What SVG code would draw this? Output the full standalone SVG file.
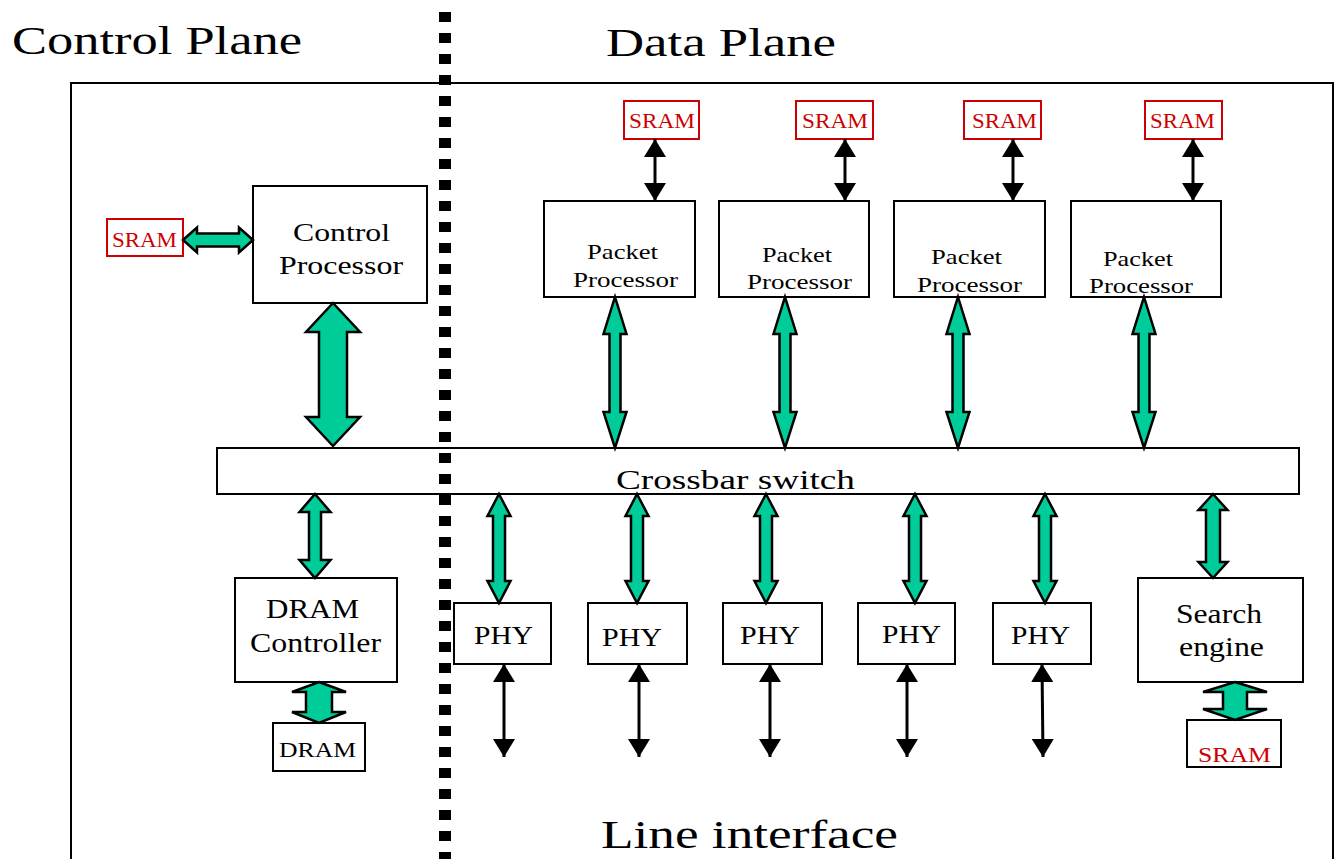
<svg xmlns="http://www.w3.org/2000/svg" width="1335" height="859" viewBox="0 0 1335 859">
<defs>
<style>
.box{fill:#fff;stroke:#000;stroke-width:2}
.rbox{fill:#fff;stroke:#cc0000;stroke-width:2}
.t{font-family:"Liberation Serif","Times New Roman",serif;fill:#000}
.r{fill:#cc0000}
.g{fill:#00cc99;stroke:#000;stroke-width:2.5;stroke-linejoin:miter}
.b{stroke:#000;stroke-width:3;fill:none}
</style>
<marker id="ah" viewBox="0 0 18 22" refX="18" refY="11" markerWidth="18" markerHeight="22" markerUnits="userSpaceOnUse" orient="auto-start-reverse">
<path d="M0,0 L18,11 L0,22 z" fill="#000"/>
</marker>
</defs>
<rect width="1335" height="859" fill="#fff"/>
<path d="M71,870 V83 H1333 V870" fill="none" stroke="#000" stroke-width="2"/>
<text class="t" x="12" y="54" font-size="40" textLength="290" lengthAdjust="spacingAndGlyphs">Control Plane</text>
<text class="t" x="606" y="56" font-size="40" textLength="230" lengthAdjust="spacingAndGlyphs">Data Plane</text>
<text class="t" x="601" y="848" font-size="40" textLength="297" lengthAdjust="spacingAndGlyphs">Line interface</text>

<g id="sram-cp"><rect class="rbox" x="107" y="219" width="76" height="37"/><text class="t r" x="112" y="247" font-size="20" textLength="65" lengthAdjust="spacingAndGlyphs">SRAM</text></g>
<g id="control-processor"><rect class="box" x="253" y="186" width="174" height="117"/>
<text class="t" x="293" y="241" font-size="26" textLength="97" lengthAdjust="spacingAndGlyphs">Control</text>
<text class="t" x="279" y="274" font-size="26" textLength="124" lengthAdjust="spacingAndGlyphs">Processor</text></g>

<g id="sram1"><rect class="rbox" x="624" y="101" width="75" height="38"/><text class="t r" x="629" y="128" font-size="20" textLength="66" lengthAdjust="spacingAndGlyphs">SRAM</text></g>
<g id="sram2"><rect class="rbox" x="796" y="101" width="77" height="38"/><text class="t r" x="802" y="128" font-size="20" textLength="66" lengthAdjust="spacingAndGlyphs">SRAM</text></g>
<g id="sram3"><rect class="rbox" x="964" y="101" width="77" height="38"/><text class="t r" x="972" y="128" font-size="20" textLength="65" lengthAdjust="spacingAndGlyphs">SRAM</text></g>
<g id="sram4"><rect class="rbox" x="1145" y="101" width="77" height="38"/><text class="t r" x="1150" y="128" font-size="20" textLength="65" lengthAdjust="spacingAndGlyphs">SRAM</text></g>

<g id="pp1"><rect class="box" x="544" y="201" width="151" height="96"/>
<text class="t" x="587" y="259" font-size="21" textLength="71" lengthAdjust="spacingAndGlyphs">Packet</text>
<text class="t" x="573" y="287" font-size="21" textLength="105" lengthAdjust="spacingAndGlyphs">Processor</text></g>
<g id="pp2"><rect class="box" x="719" y="201" width="150" height="96"/>
<text class="t" x="762" y="262" font-size="21" textLength="70" lengthAdjust="spacingAndGlyphs">Packet</text>
<text class="t" x="747" y="289" font-size="21" textLength="105" lengthAdjust="spacingAndGlyphs">Processor</text></g>
<g id="pp3"><rect class="box" x="894" y="201" width="151" height="96"/>
<text class="t" x="931" y="264" font-size="21" textLength="71" lengthAdjust="spacingAndGlyphs">Packet</text>
<text class="t" x="917" y="292" font-size="21" textLength="105" lengthAdjust="spacingAndGlyphs">Processor</text></g>
<g id="pp4"><rect class="box" x="1071" y="201" width="150" height="96"/>
<text class="t" x="1103" y="266" font-size="21" textLength="70" lengthAdjust="spacingAndGlyphs">Packet</text>
<text class="t" x="1089" y="293" font-size="21" textLength="104" lengthAdjust="spacingAndGlyphs">Processor</text></g>

<g id="crossbar"><rect class="box" x="217" y="448" width="1082" height="46"/>
<text class="t" x="616" y="489" font-size="28" textLength="239" lengthAdjust="spacingAndGlyphs">Crossbar switch</text></g>

<g id="dram-controller"><rect class="box" x="235" y="578" width="162" height="104"/>
<text class="t" x="266" y="618" font-size="27" textLength="93" lengthAdjust="spacingAndGlyphs">DRAM</text>
<text class="t" x="250" y="652" font-size="27" textLength="131" lengthAdjust="spacingAndGlyphs">Controller</text></g>
<g id="dram"><rect class="box" x="273" y="723" width="92" height="48"/>
<text class="t" x="279" y="757" font-size="22" textLength="77" lengthAdjust="spacingAndGlyphs">DRAM</text></g>

<g id="phy1"><rect class="box" x="454" y="603" width="97" height="61"/><text class="t" x="474" y="644" font-size="26" textLength="59" lengthAdjust="spacingAndGlyphs">PHY</text></g>
<g id="phy2"><rect class="box" x="588" y="603" width="99" height="61"/><text class="t" x="602" y="646" font-size="26" textLength="60" lengthAdjust="spacingAndGlyphs">PHY</text></g>
<g id="phy3"><rect class="box" x="723" y="603" width="99" height="61"/><text class="t" x="740" y="644" font-size="26" textLength="60" lengthAdjust="spacingAndGlyphs">PHY</text></g>
<g id="phy4"><rect class="box" x="858" y="603" width="97" height="61"/><text class="t" x="882" y="643" font-size="26" textLength="59" lengthAdjust="spacingAndGlyphs">PHY</text></g>
<g id="phy5"><rect class="box" x="993" y="603" width="98" height="61"/><text class="t" x="1011" y="644" font-size="26" textLength="59" lengthAdjust="spacingAndGlyphs">PHY</text></g>

<g id="search-engine"><rect class="box" x="1138" y="578" width="165" height="104"/>
<text class="t" x="1176" y="623" font-size="28" textLength="86" lengthAdjust="spacingAndGlyphs">Search</text>
<text class="t" x="1179" y="656" font-size="28" textLength="85" lengthAdjust="spacingAndGlyphs">engine</text></g>
<g id="sram-se"><rect class="box" x="1187" y="720" width="94" height="47"/>
<text class="t r" x="1198" y="762" font-size="22" textLength="73" lengthAdjust="spacingAndGlyphs">SRAM</text></g>

<g id="connectors">
<!-- SRAM <-> Control Processor -->
<polygon class="g" points="183,240 197,227.5 197,233.5 239,233.5 239,227.5 253,240 239,252.5 239,246.5 197,246.5 197,252.5"/>
<!-- Control Processor <-> Crossbar -->
<polygon class="g" points="333,303 360,332 347,332 347,417 360,417 333,446 306,417 319,417 319,332 306,332"/>
<!-- Packet processors <-> Crossbar -->
<polygon class="g" points="615,297 626.5,334 620.5,334 620.5,412 626.5,412 615,448 603.5,412 609.5,412 609.5,334 603.5,334"/>
<polygon class="g" points="785,297 796.5,334 790.5,334 790.5,412 796.5,412 785,448 773.5,412 779.5,412 779.5,334 773.5,334"/>
<polygon class="g" points="958,297 969.5,334 963.5,334 963.5,412 969.5,412 958,448 946.5,412 952.5,412 952.5,334 946.5,334"/>
<polygon class="g" points="1144,297 1155.5,334 1149.5,334 1149.5,412 1155.5,412 1144,448 1132.5,412 1138.5,412 1138.5,334 1132.5,334"/>
<!-- Crossbar <-> DRAM controller -->
<polygon class="g" points="315,494 330.5,512 321,512 321,560 330.5,560 315,578 299.5,560 309,560 309,512 299.5,512"/>
<!-- Crossbar <-> PHYs -->
<polygon class="g" points="499,494 510.5,516 505,516 505,581 510.5,581 499,603 487.5,581 493,581 493,516 487.5,516"/>
<polygon class="g" points="637,494 648.5,516 643,516 643,581 648.5,581 637,603 625.5,581 631,581 631,516 625.5,516"/>
<polygon class="g" points="766,494 777.5,516 772,516 772,581 777.5,581 766,603 754.5,581 760,581 760,516 754.5,516"/>
<polygon class="g" points="915,494 926.5,516 921,516 921,581 926.5,581 915,603 903.5,581 909,581 909,516 903.5,516"/>
<polygon class="g" points="1045,494 1056.5,516 1051,516 1051,581 1056.5,581 1045,603 1033.5,581 1039,581 1039,516 1033.5,516"/>
<!-- Crossbar <-> Search engine -->
<polygon class="g" points="1213,494 1227.5,510 1220,510 1220,562 1227.5,562 1213,578 1198.5,562 1206,562 1206,510 1198.5,510"/>
<!-- DRAM controller <-> DRAM -->
<polygon class="g" points="319,682 346,692 332,692 332,712 346,712 319,723 292,712 306,712 306,692 292,692"/>
<!-- Search engine <-> SRAM -->
<polygon class="g" points="1235,682 1267,692 1247,692 1247,709 1267,709 1235,720 1203,709 1223,709 1223,692 1203,692"/>
<!-- SRAM <-> Packet processors -->
<line class="b" x1="655" y1="139" x2="655" y2="201" marker-start="url(#ah)" marker-end="url(#ah)"/>
<line class="b" x1="845" y1="139" x2="845" y2="201" marker-start="url(#ah)" marker-end="url(#ah)"/>
<line class="b" x1="1013" y1="139" x2="1013" y2="201" marker-start="url(#ah)" marker-end="url(#ah)"/>
<line class="b" x1="1193" y1="139" x2="1193" y2="201" marker-start="url(#ah)" marker-end="url(#ah)"/>
<!-- PHY <-> line -->
<line class="b" x1="504" y1="664" x2="504" y2="757" marker-start="url(#ah)" marker-end="url(#ah)"/>
<line class="b" x1="639" y1="664" x2="639" y2="757" marker-start="url(#ah)" marker-end="url(#ah)"/>
<line class="b" x1="770" y1="664" x2="770" y2="757" marker-start="url(#ah)" marker-end="url(#ah)"/>
<line class="b" x1="907" y1="664" x2="907" y2="757" marker-start="url(#ah)" marker-end="url(#ah)"/>
<line class="b" x1="1042" y1="664" x2="1043" y2="757" marker-start="url(#ah)" marker-end="url(#ah)"/>
</g>
<line x1="445" y1="12" x2="445" y2="859" stroke="#000" stroke-width="12" stroke-dasharray="10 11"/>
</svg>
